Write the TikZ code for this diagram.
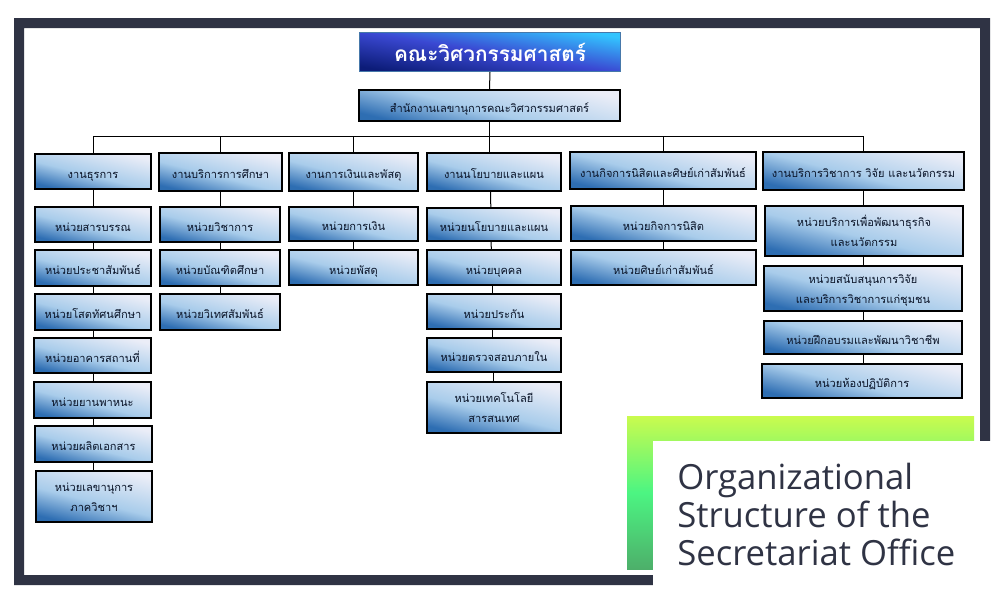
\documentclass[tikz,border=0pt]{standalone}
\usepackage{fontspec}
\newfontfamily\thaifont[Script=Thai]{Loma}
\newfontfamily\titlefont{Open Sans}
\definecolor{framedark}{HTML}{2F3344}
\definecolor{inktext}{HTML}{0A1428}
\definecolor{headA}{HTML}{0C1C78}
\definecolor{headB}{HTML}{3A48D2}
\definecolor{headC}{HTML}{33C4FF}
\definecolor{limeA}{HTML}{CAFB4E}
\definecolor{limeB}{HTML}{4CF582}
\definecolor{limeC}{HTML}{4DAF6A}
\newcommand{\toprow}{\rule{0pt}{10pt}}
\pgfdeclareverticalshading{panelfill}{100bp}{
  rgb(0bp)=(0.18,0.43,0.70); rgb(25bp)=(0.18,0.43,0.70);
  rgb(46bp)=(0.66,0.80,0.92); rgb(75bp)=(0.92,0.93,0.97); rgb(100bp)=(0.92,0.93,0.97)}
\tikzset{
  panel/.style={draw=black, line width=1.5pt, inner sep=0pt, text=inktext, align=center,
    font=\thaifont\fontsize{8.3}{15}\selectfont,
    execute at begin node={\rule[-2pt]{0pt}{14pt}},
    shading=panelfill, shading angle=-14},
  sized/.style 2 args={minimum width=#1*0.75pt, minimum height=#2*0.75pt},
  wire/.style={draw=black, line width=0.75pt},
}
\begin{document}
\begin{tikzpicture}[x=0.75pt,y=-0.75pt]
\useasboundingbox (0,0) rectangle (1006,603);
\fill [white] (0,0) rectangle (1006,603);
\fill [framedark, even odd rule] (14,18) rectangle (990,585) (24,28) rectangle (980,575);
\fill [white] (653,441) rectangle (1006,603);
\shade [top color=limeA, bottom color=limeC, middle color=limeB] (627,416) rectangle (974,569);
\fill [white] (653,441) rectangle (1006,603);
\node [sized={261}{39}, draw={rgb,255:red,70;green,120;blue,170}, line width=0.75pt, inner sep=0pt, text=white,
  top color=headC, bottom color=headA, middle color=headB, shading angle=-9,
  font=\thaifont\bfseries\fontsize{15.6}{18}\selectfont] (faculty) at (490,52) {คณะวิศวกรรมศาสตร์};
\node [panel, sized={261}{31}] (office) at (489.5,105.5) {สำนักงานเลขานุการคณะวิศวกรรมศาสตร์};
\coordinate (busright) at (863.5,136);
\coordinate (busmid) at (489.5,136);
\node [panel, sized={116}{35}] (dept1) at (93,171.5) {งานธุรการ};
\node [panel, sized={123}{38}] (dept2) at (220.5,172) {งานบริการการศึกษา};
\node [panel, sized={129}{38}] (dept3) at (353.5,172) {งานการเงินและพัสดุ};
\node [panel, sized={134}{38}] (dept4) at (494,172) {งานนโยบายและแผน};
\node [panel, sized={186}{37}] (dept5) at (663,170.5) {งานกิจการนิสิตและศิษย์เก่าสัมพันธ์};
\node [panel, sized={201}{38}] (dept6) at (863.5,171) {งานบริการวิชาการ วิจัย และนวัตกรรม};
\node [panel, sized={116}{35}] (unita1) at (93,224.5) {หน่วยสารบรรณ};
\node [panel, sized={116}{36}] (unita2) at (93,268) {หน่วยประชาสัมพันธ์};
\node [panel, sized={116}{36}] (unita3) at (93,312) {หน่วยโสตทัศนศึกษา};
\node [panel, sized={117}{35}] (unita4) at (92.5,355.5) {หน่วยอาคารสถานที่};
\node [panel, sized={117}{36}] (unita5) at (92.5,400) {หน่วยยานพาหนะ};
\node [panel, sized={117}{36}] (unita6) at (93.5,444) {หน่วยผลิตเอกสาร};
\node [panel, sized={116}{51}] (unita7) at (94,496.5) {\toprow หน่วยเลขานุการ\\ภาควิชาฯ};
\node [panel, sized={120}{35}] (unitb1) at (220,224.5) {หน่วยวิชาการ};
\node [panel, sized={120}{36}] (unitb2) at (220,268) {หน่วยบัณฑิตศึกษา};
\node [panel, sized={120}{36}] (unitb3) at (220,312) {หน่วยวิเทศสัมพันธ์};
\node [panel, sized={129}{34}] (unitc1) at (353.5,224) {หน่วยการเงิน};
\node [panel, sized={129}{35}] (unitc2) at (353.5,267.5) {หน่วยพัสดุ};
\node [panel, sized={134}{33}] (unitd1) at (494,224.5) {หน่วยนโยบายและแผน};
\node [panel, sized={134}{35}] (unitd2) at (494,267.5) {หน่วยบุคคล};
\node [panel, sized={134}{35}] (unitd3) at (494,311.5) {หน่วยประกัน};
\node [panel, sized={134}{34}] (unitd4) at (494,355) {หน่วยตรวจสอบภายใน};
\node [panel, sized={134}{51}] (unitd5) at (494,407.5) {\toprow หน่วยเทคโนโลยี\\สารสนเทศ};
\node [panel, sized={185}{35}] (unite1) at (663.5,223.5) {หน่วยกิจการนิสิต};
\node [panel, sized={185}{35}] (unite2) at (663.5,267.5) {หน่วยศิษย์เก่าสัมพันธ์};
\node [panel, sized={198}{50}] (unitf1) at (864,231) {\toprow หน่วยบริการเพื่อพัฒนาธุรกิจ\\และนวัตกรรม};
\node [panel, sized={198}{45}] (unitf2) at (863,288.5) {\toprow หน่วยสนับสนุนการวิจัย\\และบริการวิชาการแก่ชุมชน};
\node [panel, sized={198}{33}] (unitf3) at (863,337.5) {หน่วยฝึกอบรมและพัฒนาวิชาชีพ};
\node [panel, sized={200}{34}] (unitf4) at (862,381) {หน่วยห้องปฏิบัติการ};
\node [anchor=north west, inner sep=0pt, text=framedark, align=left,
  font=\titlefont\fontsize{26}{28.5}\selectfont] (caption) at (677,463) {Organizational\\Structure of the\\Secretariat Office};
\draw [wire] (faculty.south) -- (office.north);
\draw [wire] (office.south) -- (busmid);
\draw [wire] (dept1.north) |- (busright);
\draw [wire] (busright) -- (busright |- dept6.north);
\draw [wire] (busmid) -- (busmid |- dept4.north);
\draw [wire] (dept2.north) -- (dept2.north |- busmid);
\draw [wire] (dept3.north) -- (dept3.north |- busmid);
\draw [wire] (dept5.north) -- (dept5.north |- busmid);
\draw [wire] (dept1.south) -- (unita1.north);
\draw [wire] (unita1.south) -- (unita2.north);
\draw [wire] (unita2.south) -- (unita3.north);
\draw [wire] (dept1 |- unita3.south) -- (dept1 |- unita4.north);
\draw [wire] (dept1 |- unita4.south) -- (dept1 |- unita5.north);
\draw [wire] (dept1 |- unita5.south) -- (dept1 |- unita6.north);
\draw [wire] (dept1 |- unita6.south) -- (dept1 |- unita7.north);
\draw [wire] (dept2.south) -- (dept2 |- unitb1.north);
\draw [wire] (unitb1.south) -- (unitb2.north);
\draw [wire] (unitb2.south) -- (unitb3.north);
\draw [wire] (dept3.south) -- (unitc1.north);
\draw [wire] (unitc1.south) -- (unitc2.north);
\draw [wire] ([xshift=-2.6pt]dept4.south) -- ([xshift=-2.4pt]unitd1.north);
\draw [wire] ([xshift=-2.2pt]unitd1.south) -- ([xshift=-2pt]unitd2.north);
\draw [wire] ([xshift=-1.5pt]unitd2.south) -- ([xshift=-1.5pt]unitd3.north);
\draw [wire] ([xshift=-1pt]unitd3.south) -- ([xshift=-1pt]unitd4.north);
\draw [wire] ([xshift=-.5pt]unitd4.south) -- ([xshift=-.5pt]unitd5.north);
\draw [wire] (dept5.south) -- (dept5 |- unite1.north);
\draw [wire] (dept5 |- unite1.south) -- (dept5 |- unite2.north);
\draw [wire] (dept6.south) -- (dept6 |- unitf1.north);
\draw [wire] (dept6 |- unitf1.south) -- (dept6 |- unitf2.north);
\draw [wire] (dept6 |- unitf2.south) -- (dept6 |- unitf3.north);
\draw [wire] (dept6 |- unitf3.south) -- (dept6 |- unitf4.north);
\end{tikzpicture}
\end{document}
